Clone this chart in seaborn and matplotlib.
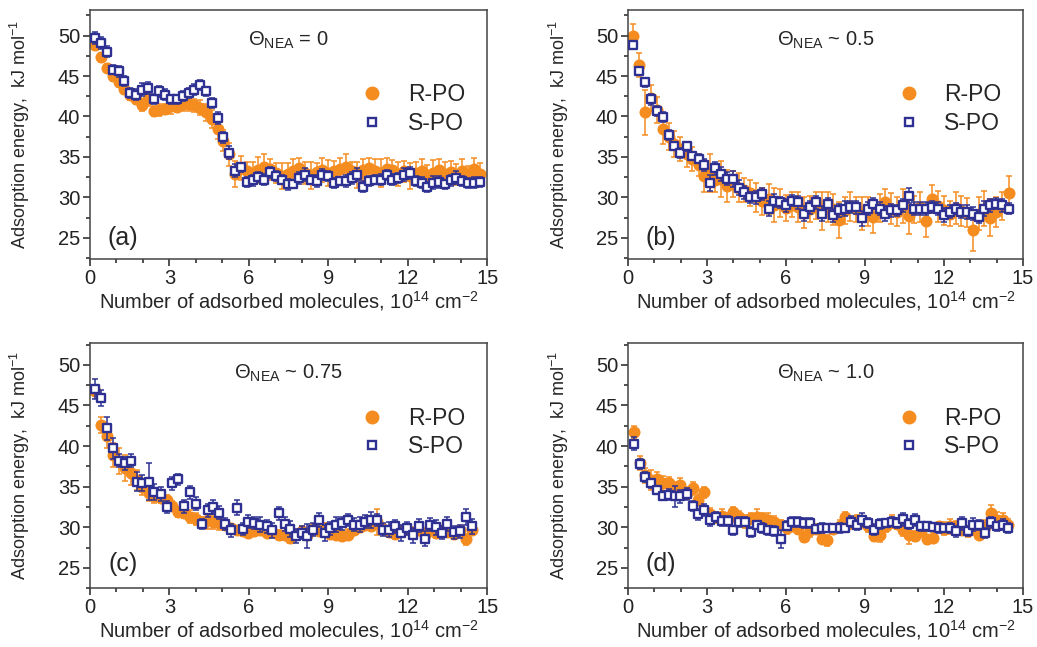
import matplotlib
matplotlib.use("Agg")
import matplotlib.pyplot as plt
from matplotlib.ticker import MultipleLocator
from matplotlib.lines import Line2D
import seaborn as sns

sns.set_theme(style="ticks")
plt.rcParams['font.family'] = ['Liberation Sans', 'DejaVu Sans']
plt.rcParams['mathtext.fontset'] = 'custom'
plt.rcParams['mathtext.rm'] = 'Liberation Sans'
plt.rcParams['mathtext.it'] = 'Liberation Sans:italic'

ORANGE = '#F58C1F'
BLUE = '#2E3192'

# ---------------- data ----------------
# (a) theta_NEA = 0
x_a = [0.20, 0.42, 0.64, 0.86, 1.08, 1.30, 1.52, 1.74, 1.96, 2.18,
       2.40, 2.62, 2.84, 3.06, 3.28, 3.50, 3.72, 3.94, 4.16, 4.38,
       4.60, 4.82, 5.04, 5.26, 5.48, 5.70, 5.92, 6.14, 6.36, 6.58,
       6.80, 7.02, 7.24, 7.46, 7.68, 7.90, 8.12, 8.34, 8.56, 8.78,
       9.00, 9.22, 9.44, 9.66, 9.88, 10.10, 10.32, 10.54, 10.76, 10.98,
       11.20, 11.42, 11.64, 11.86, 12.08, 12.30, 12.52, 12.74, 12.96, 13.18,
       13.40, 13.62, 13.84, 14.06, 14.28, 14.50, 14.72]
r_a = [48.8, 47.3, 46.0, 45.0, 44.2, 43.4, 42.7, 42.1, 41.4, 42.1,
       40.7, 40.8, 40.9, 41.3, 41.2, 41.5, 41.6, 41.4, 41.1, 40.5,
       39.7, 38.4, 37.0, 35.3, 32.9, 33.6, 33.2, 33.0, 33.4, 33.8,
       33.5, 33.0, 32.6, 32.9, 33.2, 33.6, 33.0, 32.7, 33.1, 33.4,
       33.0, 33.2, 33.5, 33.8, 33.2, 32.8, 33.4, 33.6, 33.2, 33.0,
       33.5, 33.4, 32.9, 33.2, 32.6, 33.0, 33.3, 32.8, 33.0, 33.4,
       32.9, 33.1, 32.8, 33.2, 32.7, 33.5, 32.9]
r_a_err = [0.6, 0.6, 0.5, 0.6, 0.5, 0.6, 0.7, 0.6, 0.7, 0.8,
           0.6, 0.7, 0.6, 1.0, 0.7, 0.8, 0.9, 0.8, 0.9, 1.0,
           1.1, 1.2, 1.3, 1.4, 1.6, 1.5, 1.2, 1.4, 1.6, 1.5,
           1.3, 1.2, 1.6, 1.4, 1.5, 1.3, 1.4, 1.7, 1.2, 1.5,
           1.6, 1.3, 1.4, 1.5, 1.2, 1.6, 1.4, 1.3, 1.5, 1.7,
           1.4, 1.2, 1.5, 1.3, 1.6, 1.4, 1.5, 1.2, 1.6, 1.3,
           1.5, 1.4, 1.3, 1.6, 1.2, 1.4, 1.3]
s_a = [49.7, 49.1, 48.0, 45.8, 45.6, 44.4, 42.9, 42.7, 43.3, 43.5,
       42.2, 43.1, 42.7, 42.1, 42.1, 42.5, 42.9, 43.3, 43.9, 43.1,
       41.7, 39.8, 37.4, 35.5, 33.3, 33.7, 31.9, 32.1, 32.5, 32.2,
       33.1, 32.6, 32.2, 31.6, 31.7, 32.4, 32.8, 32.2, 32.0, 32.8,
       32.6, 31.8, 32.0, 32.0, 32.4, 32.8, 31.3, 32.0, 32.2, 32.2,
       32.8, 32.2, 32.4, 32.8, 33.0, 32.0, 31.8, 31.3, 31.8, 31.9,
       31.6, 32.1, 32.4, 32.0, 31.8, 31.8, 31.9]
s_a_err = [0.8, 0.7, 0.7, 0.6, 0.7, 0.6, 0.6, 0.7, 0.8, 0.7,
           0.6, 0.7, 0.7, 0.6, 0.5, 0.6, 0.6, 0.7, 0.6, 0.6,
           0.6, 0.7, 0.7, 0.8, 0.8, 0.6, 0.6, 0.7, 0.6, 0.7,
           0.7, 0.6, 0.6, 0.7, 0.5, 0.7, 0.8, 0.6, 0.7, 0.7,
           0.6, 0.6, 0.5, 0.7, 0.7, 0.8, 0.7, 0.6, 0.6, 0.7,
           0.6, 0.7, 0.6, 0.8, 0.7, 0.6, 0.7, 0.6, 0.8, 0.7,
           0.6, 0.7, 0.8, 0.6, 0.6, 0.7, 0.6]

# (b) theta_NEA ~ 0.5
x_b = [0.20, 0.43, 0.66, 0.87, 1.10, 1.34, 1.54, 1.76, 1.99, 2.23,
       2.43, 2.68, 2.90, 3.11, 3.32, 3.53, 3.75, 3.97, 4.20, 4.42,
       4.63, 4.86, 5.09, 5.34, 5.56, 5.77, 6.00, 6.23, 6.44, 6.70,
       6.91, 7.14, 7.37, 7.58, 7.80, 8.02, 8.23, 8.43, 8.66, 8.89,
       9.10, 9.32, 9.55, 9.77, 9.99, 10.20, 10.43, 10.66, 10.87, 11.09,
       11.31, 11.54, 11.76, 12.01, 12.23, 12.46, 12.64, 12.86, 13.09, 13.32,
       13.53, 13.75, 13.97, 14.20, 14.46]
r_b = [49.9, 46.4, 40.5, 42.3, 40.8, 38.4, 37.5, 36.6, 36.0, 35.3,
       34.7, 34.0, 32.6, 33.0, 32.2, 32.3, 31.4, 31.6, 31.2, 30.9,
       30.5, 30.0, 29.5, 29.8, 29.1, 29.3, 28.7, 29.1, 28.8, 28.1,
       28.6, 29.0, 28.3, 28.8, 28.5, 27.2, 28.4, 28.9, 28.5, 28.0,
       28.3, 27.6, 28.7, 29.4, 28.6, 28.2, 28.9, 27.7, 28.5, 28.8,
       27.1, 29.8, 28.9, 28.4, 28.0, 28.7, 28.3, 28.1, 25.9, 28.0,
       28.6, 27.5, 28.2, 28.9, 30.5]
r_b_err = [1.5, 1.5, 2.8, 1.6, 1.6, 1.8, 1.7, 1.6, 1.5, 1.6,
           1.5, 1.4, 2.0, 2.3, 1.5, 2.2, 2.0, 1.6, 1.8, 1.5,
           1.6, 1.8, 1.7, 1.9, 2.1, 1.7, 1.6, 1.5, 1.8, 1.9,
           1.6, 1.7, 2.3, 1.8, 1.9, 2.2, 1.7, 1.8, 1.6, 2.0,
           1.8, 2.0, 1.7, 1.6, 1.9, 1.8, 2.1, 2.2, 1.7, 1.8,
           2.0, 1.7, 1.9, 1.8, 1.6, 2.0, 1.9, 1.8, 2.5, 2.0,
           2.2, 2.3, 1.9, 1.7, 2.1]
s_b = [48.8, 45.6, 44.2, 42.1, 40.7, 39.9, 37.7, 36.3, 35.5, 36.3,
       35.1, 34.8, 34.0, 31.8, 33.6, 32.9, 32.3, 32.3, 31.2, 30.6,
       30.0, 30.0, 30.4, 28.6, 29.6, 29.4, 29.0, 29.6, 29.4, 28.0,
       28.8, 29.4, 28.0, 29.2, 27.8, 28.4, 28.6, 28.8, 28.8, 27.4,
       28.6, 29.2, 28.6, 28.0, 28.4, 28.4, 29.0, 30.2, 28.6, 28.6,
       28.6, 28.8, 28.6, 27.8, 28.2, 28.6, 28.2, 28.2, 28.0, 27.6,
       28.6, 29.0, 29.2, 29.0, 28.6]
s_b_err = [0.5, 0.5, 0.5, 0.7, 0.6, 0.6, 0.6, 0.5, 0.6, 0.6,
           0.5, 0.6, 0.7, 1.0, 0.8, 0.9, 0.8, 1.0, 0.9, 0.8,
           0.7, 0.8, 0.7, 0.9, 0.8, 0.7, 0.8, 0.7, 0.8, 0.9,
           0.8, 0.8, 0.9, 0.7, 0.8, 0.8, 0.9, 0.7, 0.8, 0.9,
           0.8, 0.7, 0.8, 0.9, 0.8, 0.7, 0.8, 0.9, 0.8, 0.8,
           0.8, 0.7, 0.8, 0.9, 0.8, 0.7, 0.8, 0.9, 0.8, 0.8,
           0.9, 0.8, 0.7, 0.8, 0.7]

# (c) theta_NEA ~ 0.75
x_c = [0.20, 0.43, 0.66, 0.87, 1.10, 1.31, 1.54, 1.76, 1.98, 2.22,
       2.42, 2.68, 2.89, 3.10, 3.33, 3.56, 3.77, 3.99, 4.22, 4.45,
       4.66, 4.87, 5.10, 5.33, 5.54, 5.76, 5.98, 6.21, 6.43, 6.68,
       6.89, 7.12, 7.35, 7.56, 7.78, 8.00, 8.20, 8.41, 8.64, 8.86,
       9.08, 9.29, 9.52, 9.75, 9.96, 10.18, 10.40, 10.63, 10.85, 11.06,
       11.29, 11.52, 11.73, 11.98, 12.20, 12.42, 12.65, 12.83, 13.06, 13.28,
       13.50, 13.75, 13.96, 14.19, 14.42]
r_c = [46.8, 42.6, 41.2, 38.9, 38.1, 37.3, 36.7, 35.8, 35.0, 34.2,
       33.8, 33.6, 33.4, 32.6, 31.9, 31.7, 31.3, 31.0, 30.7, 30.9,
       30.7, 30.5, 30.3, 29.9, 29.7, 29.5, 29.3, 29.5, 29.6, 29.3,
       29.4, 29.1, 29.0, 28.7, 29.2, 29.5, 29.0, 29.8, 29.5, 29.9,
       29.2, 29.0, 28.9, 29.1, 29.6, 30.0, 30.3, 30.1, 30.7, 29.8,
       29.4, 29.2, 29.5, 29.8, 29.4, 29.7, 29.0, 29.6, 29.3, 29.7,
       29.4, 29.2, 29.6, 28.5, 29.6]
r_c_err = [0.6, 1.0, 1.5, 1.5, 1.6, 1.6, 1.5, 1.2, 1.0, 1.0,
           0.8, 0.6, 0.6, 0.6, 0.6, 0.6, 0.8, 0.7, 0.6, 1.1,
           0.9, 0.8, 0.6, 0.5, 0.5, 0.6, 0.5, 0.6, 0.5, 0.5,
           0.5, 0.6, 0.5, 0.6, 0.5, 0.6, 0.5, 0.6, 0.5, 0.6,
           0.6, 0.5, 0.6, 0.7, 0.6, 0.5, 0.6, 0.5, 1.6, 0.6,
           0.5, 0.6, 0.5, 0.6, 0.5, 0.6, 0.7, 0.5, 0.6, 0.5,
           0.6, 0.5, 0.6, 0.7, 0.6]
s_c = [47.0, 45.9, 42.2, 39.7, 38.2, 37.9, 38.2, 35.6, 35.4, 35.6,
       34.3, 34.1, 32.5, 35.4, 35.9, 32.6, 34.3, 32.9, 30.4, 32.1,
       32.5, 31.8, 30.4, 29.6, 32.4, 29.8, 30.7, 30.5, 30.3, 30.1,
       29.6, 31.7, 30.4, 29.8, 28.9, 29.3, 28.9, 29.7, 30.9, 29.3,
       29.9, 30.3, 30.5, 30.9, 30.3, 30.3, 30.7, 30.9, 30.9, 29.7,
       29.7, 30.1, 29.3, 29.9, 29.0, 30.2, 28.6, 30.3, 30.0, 29.3,
       30.4, 29.4, 29.5, 31.3, 30.1]
s_c_err = [1.2, 1.0, 1.4, 1.3, 0.8, 0.8, 0.8, 1.2, 1.0, 2.3,
           1.0, 0.9, 0.7, 0.8, 0.7, 0.8, 0.8, 0.8, 0.6, 0.8,
           0.9, 0.8, 0.7, 0.8, 0.9, 0.7, 0.8, 0.7, 0.9, 0.8,
           0.9, 0.8, 0.9, 1.0, 0.9, 0.8, 1.5, 0.8, 0.9, 1.0,
           0.8, 0.9, 0.8, 0.7, 0.8, 0.9, 0.8, 1.0, 0.7, 0.8,
           0.9, 0.8, 1.0, 0.8, 0.9, 0.8, 0.9, 0.8, 0.9, 0.8,
           0.9, 0.8, 0.8, 1.0, 0.9]

# (d) theta_NEA ~ 1.0
x_d = [0.23, 0.46, 0.66, 0.87, 1.11, 1.34, 1.57, 1.78, 1.99, 2.23,
       2.46, 2.67, 2.88, 3.11, 3.34, 3.55, 3.78, 4.00, 4.22, 4.44,
       4.67, 4.88, 5.10, 5.32, 5.55, 5.79, 6.02, 6.24, 6.46, 6.68,
       6.91, 7.14, 7.36, 7.57, 7.80, 8.03, 8.24, 8.46, 8.68, 8.90,
       9.13, 9.34, 9.57, 9.80, 10.01, 10.23, 10.45, 10.68, 10.90, 11.11,
       11.34, 11.57, 11.79, 12.00, 12.23, 12.46, 12.67, 12.89, 13.10, 13.34,
       13.55, 13.77, 14.00, 14.23, 14.44]
r_d = [41.7, 37.9, 36.4, 35.8, 36.0, 35.4, 35.4, 34.8, 35.2, 34.2,
       34.8, 33.4, 34.3, 31.6, 31.2, 31.4, 31.0, 31.9, 31.3, 30.7,
       31.1, 31.3, 31.1, 30.9, 30.7, 30.3, 29.9, 30.2, 29.8, 28.8,
       29.6, 29.8, 28.6, 28.4, 29.8, 30.2, 31.3, 30.5, 30.9, 30.7,
       30.2, 28.9, 29.1, 30.1, 30.7, 30.4, 29.6, 29.1, 28.9, 29.5,
       28.5, 28.7, 30.1, 29.8, 30.1, 30.1, 29.7, 29.5, 29.9, 29.1,
       30.0, 31.7, 30.9, 30.9, 30.3]
r_d_err = [0.8, 0.9, 0.9, 1.2, 0.8, 0.9, 0.8, 0.8, 0.9, 0.7,
           0.8, 0.7, 0.7, 0.8, 0.7, 0.8, 0.7, 0.6, 0.7, 0.8,
           0.7, 0.9, 0.7, 0.8, 0.7, 0.6, 0.7, 0.6, 0.6, 0.6,
           0.8, 0.6, 0.6, 0.7, 0.6, 0.7, 0.6, 0.7, 0.6, 0.7,
           0.8, 0.6, 0.9, 0.7, 0.8, 0.6, 0.7, 1.2, 0.6, 0.7,
           0.6, 0.7, 0.6, 0.8, 0.9, 0.7, 0.6, 0.7, 0.8, 0.6,
           0.9, 1.0, 1.0, 0.8, 0.7]
s_d = [40.3, 37.8, 36.2, 35.4, 34.6, 33.9, 34.0, 33.8, 33.8, 34.1,
       32.6, 31.6, 32.1, 30.9, 31.3, 30.8, 30.8, 29.6, 30.6, 30.7,
       29.4, 30.3, 29.9, 29.6, 29.5, 28.5, 30.2, 30.6, 30.6, 30.5,
       30.5, 29.8, 29.9, 29.9, 29.9, 29.9, 29.9, 30.7, 30.3, 30.9,
       30.5, 29.7, 30.4, 30.5, 30.7, 30.5, 31.0, 30.4, 30.9, 30.1,
       30.1, 30.0, 29.9, 29.9, 29.9, 29.5, 30.5, 29.5, 30.3, 30.3,
       29.3, 30.6, 30.1, 30.3, 29.9]
s_d_err = [0.8, 0.6, 0.6, 0.6, 0.5, 0.6, 0.7, 1.3, 0.8, 0.7,
           0.6, 0.7, 0.7, 0.7, 0.6, 0.6, 0.6, 0.5, 0.6, 0.6,
           0.6, 0.5, 0.6, 0.5, 0.6, 1.1, 0.6, 0.6, 0.6, 0.6,
           0.6, 0.5, 0.6, 0.5, 0.5, 0.6, 0.5, 0.7, 0.6, 0.8,
           0.6, 0.7, 0.6, 0.5, 0.6, 0.6, 0.8, 0.6, 0.7, 0.6,
           0.6, 0.5, 0.6, 0.5, 0.6, 0.7, 0.8, 0.6, 0.8, 0.6,
           0.6, 0.7, 0.6, 0.7, 0.6]

titles = ['= 0', '~ 0.5', '~ 0.75', '~ 1.0']
tags = ['(a)', '(b)', '(c)', '(d)']
series_labels = ['R-PO', 'S-PO']


def draw_panel(ax, x, r, r_err, s, s_err, title, tag, ylim, top_row):
    # R-PO: filled orange circles
    ax.errorbar(x, r, yerr=r_err, fmt='none', ecolor=ORANGE, elinewidth=1.1,
                capsize=2, capthick=1.1, zorder=1)
    sns.scatterplot(x=x, y=r, ax=ax, marker='o', s=75, color=ORANGE,
                    edgecolor=ORANGE, linewidth=0, zorder=2)
    # S-PO: open blue squares
    ax.errorbar(x, s, yerr=s_err, fmt='none', ecolor=BLUE, elinewidth=1.1,
                capsize=2, capthick=1.1, zorder=3)
    sns.scatterplot(x=x, y=s, ax=ax, marker='s', s=38, color='white',
                    edgecolor=BLUE, linewidth=1.7, zorder=4)

    ax.set_xlim(0, 15)
    ax.set_ylim(*ylim)
    ax.xaxis.set_major_locator(MultipleLocator(3))
    ax.xaxis.set_minor_locator(MultipleLocator(1))
    ax.yaxis.set_major_locator(MultipleLocator(5))
    ax.yaxis.set_minor_locator(MultipleLocator(2.5))
    ax.tick_params(which='both', direction='out', top=False, right=False,
                   labelsize=14.5, width=1.1, colors='#222222', pad=2)
    ax.tick_params(which='major', length=5)
    ax.tick_params(which='minor', length=3)
    for sp in ax.spines.values():
        sp.set_visible(True)
        sp.set_linewidth(1.1)
        sp.set_color('#444444')

    ax.set_xlabel(r'Number of adsorbed molecules, 10$^{14}$ cm$^{-2}$',
                  fontsize=14.5, labelpad=1)
    ax.set_ylabel(r'Adsorption energy,  kJ mol$^{-1}$', fontsize=13)
    ax.yaxis.set_label_coords(-0.145, 0.5)

    ax.text(0.5, 0.875, r'$\Theta_{\mathrm{NEA}}$ ' + title, transform=ax.transAxes,
            ha='center', va='center', fontsize=14.5)
    ax.text(0.083, 0.085 if top_row else 0.1, tag, transform=ax.transAxes,
            ha='center', va='center', fontsize=18)

    handles = [Line2D([], [], ls='none', marker='o', ms=9, color=ORANGE),
               Line2D([], [], ls='none', marker='s', ms=6.3, mfc='white',
                      mec=BLUE, mew=1.7)]
    ax.legend(handles, series_labels, loc='upper left',
              bbox_to_anchor=(0.685, 0.705 if top_row else 0.74),
              frameon=False, fontsize=16.5,
              handlelength=0.9, handletextpad=1.1, labelspacing=0.25,
              borderpad=0, borderaxespad=0)


fig = plt.figure(figsize=(10.37, 6.47), dpi=100)
ax_a = fig.add_axes([0.0868, 0.600, 0.383, 0.385])
ax_b = fig.add_axes([0.6056, 0.600, 0.381, 0.385])
ax_c = fig.add_axes([0.0868, 0.091, 0.383, 0.379])
ax_d = fig.add_axes([0.6056, 0.091, 0.381, 0.379])

draw_panel(ax_a, x_a, r_a, r_a_err, s_a, s_a_err, titles[0], tags[0], (22.4, 53.2), True)
draw_panel(ax_b, x_b, r_b, r_b_err, s_b, s_b_err, titles[1], tags[1], (22.4, 53.2), True)
draw_panel(ax_c, x_c, r_c, r_c_err, s_c, s_c_err, titles[2], tags[2], (22.5, 52.7), False)
draw_panel(ax_d, x_d, r_d, r_d_err, s_d, s_d_err, titles[3], tags[3], (22.5, 52.7), False)

fig.savefig('out.png', dpi=100)
